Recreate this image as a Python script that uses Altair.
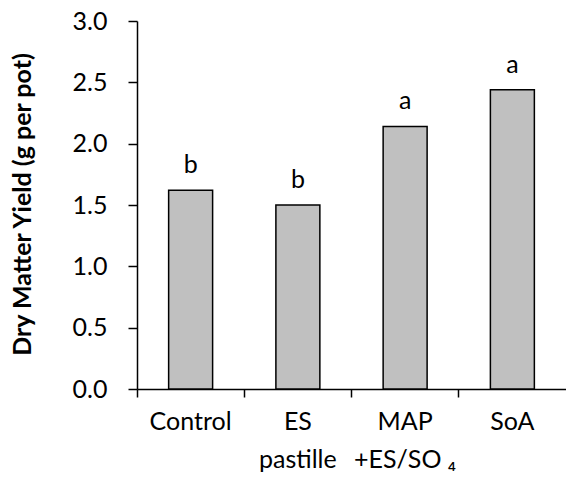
import altair as alt
import pandas as pd

treatments = ["Control", "ES|pastille", "MAP|+ES/SO ₄", "SoA"]
yields = [1.62, 1.50, 2.14, 2.44]
letters = ["b", "b", "a", "a"]
y_ticks = [0.0, 0.5, 1.0, 1.5, 2.0, 2.5, 3.0]

df = pd.DataFrame({"treatment": treatments, "yield": yields, "letter": letters})

FONT = "Lato"
FS = 25

x = alt.X(
    "treatment:N",
    sort=treatments,
    scale=alt.Scale(paddingInner=0, paddingOuter=0),
    axis=alt.Axis(
        title=None,
        labelExpr="split(datum.label, '|')",
        labelAngle=0,
        labelFont=FONT,
        labelFontSize=FS,
        labelColor="black",
        labelLineHeight=38,
        labelPadding=12,
        tickSize=8,
        tickColor="black",
        tickWidth=1.5,
        domainColor="black",
        domainWidth=1.5,
        bandPosition=0,
    ),
)
y = alt.Y(
    "yield:Q",
    scale=alt.Scale(domain=[0, 3], nice=False),
    axis=alt.Axis(
        title="Dry  Matter Yield (g per pot)",
        values=y_ticks,
        format=".1f",
        grid=False,
        labelFont=FONT,
        labelFontSize=FS,
        labelColor="black",
        labelPadding=21,
        tickSize=9,
        tickColor="black",
        tickWidth=1.5,
        domainColor="black",
        domainWidth=1.5,
        titleFont=FONT,
        titleFontSize=25,
        titleFontWeight="bold",
        titleColor="black",
        titleX=-115,
        titleY=183,
        titleAnchor="middle",
        titleAlign="center",
        titleBaseline="middle",
    ),
)

bars = alt.Chart(df).mark_bar(
    color="#c0c0c0", stroke="black", strokeWidth=1.5, width=alt.RelativeBandSize(0.41)
).encode(x=x, y=y)

text = alt.Chart(df).mark_text(
    font=FONT, fontSize=FS, color="black", baseline="alphabetic", dy=-17
).encode(x=alt.X("treatment:N", sort=treatments), y="yield:Q", text="letter:N")

chart = (
    alt.layer(bars, text)
    .properties(
        width=429,
        height=368,
        autosize=alt.AutoSizeParams(type="none"),
        padding={"left": 137, "top": 21, "right": 0, "bottom": 89},
        background="white",
    )
    .configure_view(strokeWidth=0)
)

chart.save("out.html", embed_options={"renderer": "svg", "actions": False})
